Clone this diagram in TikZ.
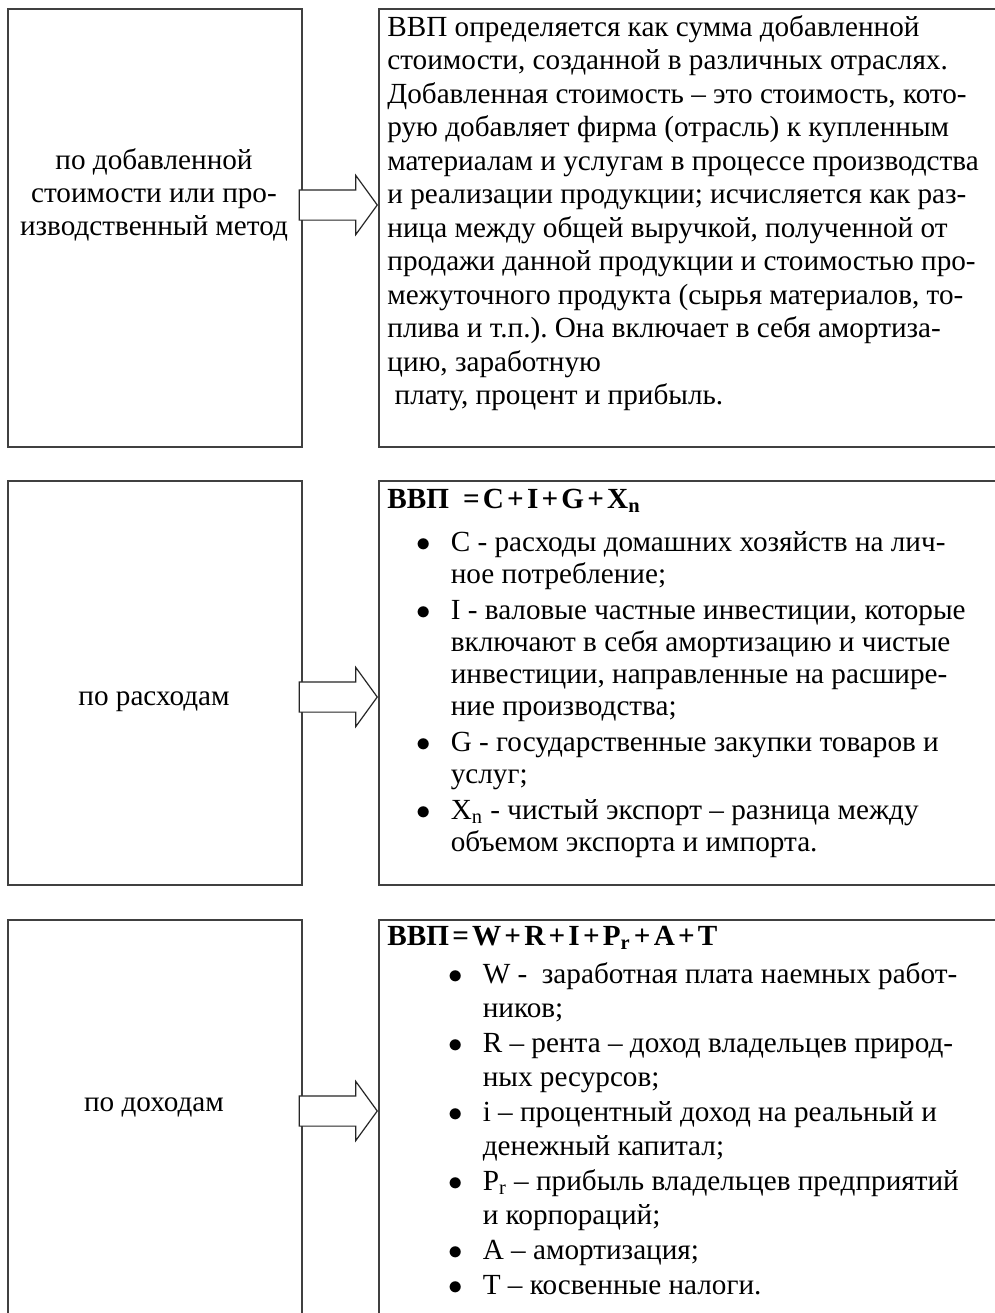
\documentclass[tikz,border=0pt]{standalone}
\usepackage{fontspec}
\setmainfont{Liberation Serif}
\usetikzlibrary{shapes.arrows}

\newcommand{\itemdot}{$\bullet$}
\newcommand{\tsp}{\hspace{1.6pt}}
\frenchspacing

\tikzset{
  frame/.style={draw=black!75, line width=0.9pt, minimum width=147pt, anchor=north west, inner sep=0pt},
  methodtext/.style={align=center, inner sep=0pt, font=\fontsize{14.6}{16.5}\selectfont},
  infotext/.style={anchor=base west, inner sep=0pt},
  fatarrow/.style={single arrow, draw=black!85, fill=white, line width=0.6pt,
    inner xsep=0pt, inner ysep=7.25pt, minimum height=39pt,
    single arrow head extend=7.25pt, single arrow tip angle=108, anchor=tip}
}

\begin{document}
\begin{tikzpicture}[x=0.5pt, y=-0.5pt]
\useasboundingbox (0,0) rectangle (995,1313);
\clip (0,0) rectangle (995,1313);

% left boxes and right boxes
\node[frame, minimum height=219pt] (m1) at (7,8) {};
\node[frame, minimum width=316pt, minimum height=219pt] (d1) at (378,8) {};
\node[frame, minimum height=202pt] (m2) at (7,480) {};
\node[frame, minimum width=316pt, minimum height=202pt] (d2) at (378,480) {};
\node[frame, minimum height=210pt] (m3) at (7,919) {};
\node[frame, minimum width=316pt, minimum height=210pt] (d3) at (378,919) {};

% method names
\node[methodtext] (t1) at (154,195) {по добавленной\\стоимости или про-\\изводственный метод};
\node[methodtext] (t2) at (154,702) {по расходам};
\node[methodtext] (t3) at (154,1107) {по доходам};

% block arrows
\node[fatarrow] (a1) at (378,205) {};
\node[fatarrow] (a2) at (378,697) {};
\node[fatarrow] (a3) at (378,1111) {};

% descriptions
\node[infotext, font=\fontsize{14.6}{16.75}\selectfont] (x1) at (387,36) {\begin{tabular}[t]{@{}l@{}}
ВВП определяется как сумма добавленной\\
стоимости, созданной в различных отраслях.\\
Добавленная стоимость – это стоимость, кото-\\
рую добавляет фирма (отрасль) к купленным\\
материалам и услугам в процессе производства\\
и реализации продукции; исчисляется как раз-\\
ница между общей выручкой, полученной от\\
продажи данной продукции и стоимостью про-\\
межуточного продукта (сырья материалов, то-\\
плива и т.п.). Она включает в себя амортиза-\\
цию, заработную\\
\ плату, процент и прибыль.
\end{tabular}};

\node[infotext, font=\fontsize{14.6}{16}\selectfont] (x2) at (387,508) {\begin{tabular}[t]{@{\hspace{14.5pt}}c@{\hspace{10pt}}l@{}}
\multicolumn{2}{@{}l@{}}{\textbf{ВВП\hspace{7pt}=\tsp C\tsp +\tsp I\tsp +\tsp G\tsp +\tsp X\textsubscript{n}}}\\[5.5pt]
\itemdot & C - расходы домашних хозяйств на лич-\\
 & ное потребление;\\[2pt]
\itemdot & I - валовые частные инвестиции, которые\\
 & включают в себя амортизацию и чистые\\
 & инвестиции, направленные на расшире-\\
 & ние производства;\\[2pt]
\itemdot & G - государственные закупки товаров и\\
 & услуг;\\[2pt]
\itemdot & X\textsubscript{n} - чистый экспорт – разница между\\
 & объемом экспорта и импорта.
\end{tabular}};

\node[infotext, font=\fontsize{14.6}{17}\selectfont] (x3) at (387,945) {\begin{tabular}[t]{@{\hspace{30.5pt}}c@{\hspace{10pt}}l@{}}
\multicolumn{2}{@{}l@{}}{\textbf{ВВП\tsp =\tsp W\tsp +\tsp R\tsp +\tsp I\tsp +\tsp P\textsubscript{r}\tsp +\tsp A\tsp +\tsp T}}\\[2pt]
\itemdot & W -~~заработная плата наемных работ-\\
 & ников;\\[0.5pt]
\itemdot & R – рента – доход владельцев природ-\\
 & ных ресурсов;\\[0.5pt]
\itemdot & i – процентный доход на реальный и\\
 & денежный капитал;\\[0.5pt]
\itemdot & P\textsubscript{r} – прибыль владельцев предприятий\\
 & и корпораций;\\[0.5pt]
\itemdot & A – амортизация;\\[0.5pt]
\itemdot & T – косвенные налоги.
\end{tabular}};
\end{tikzpicture}
\end{document}
